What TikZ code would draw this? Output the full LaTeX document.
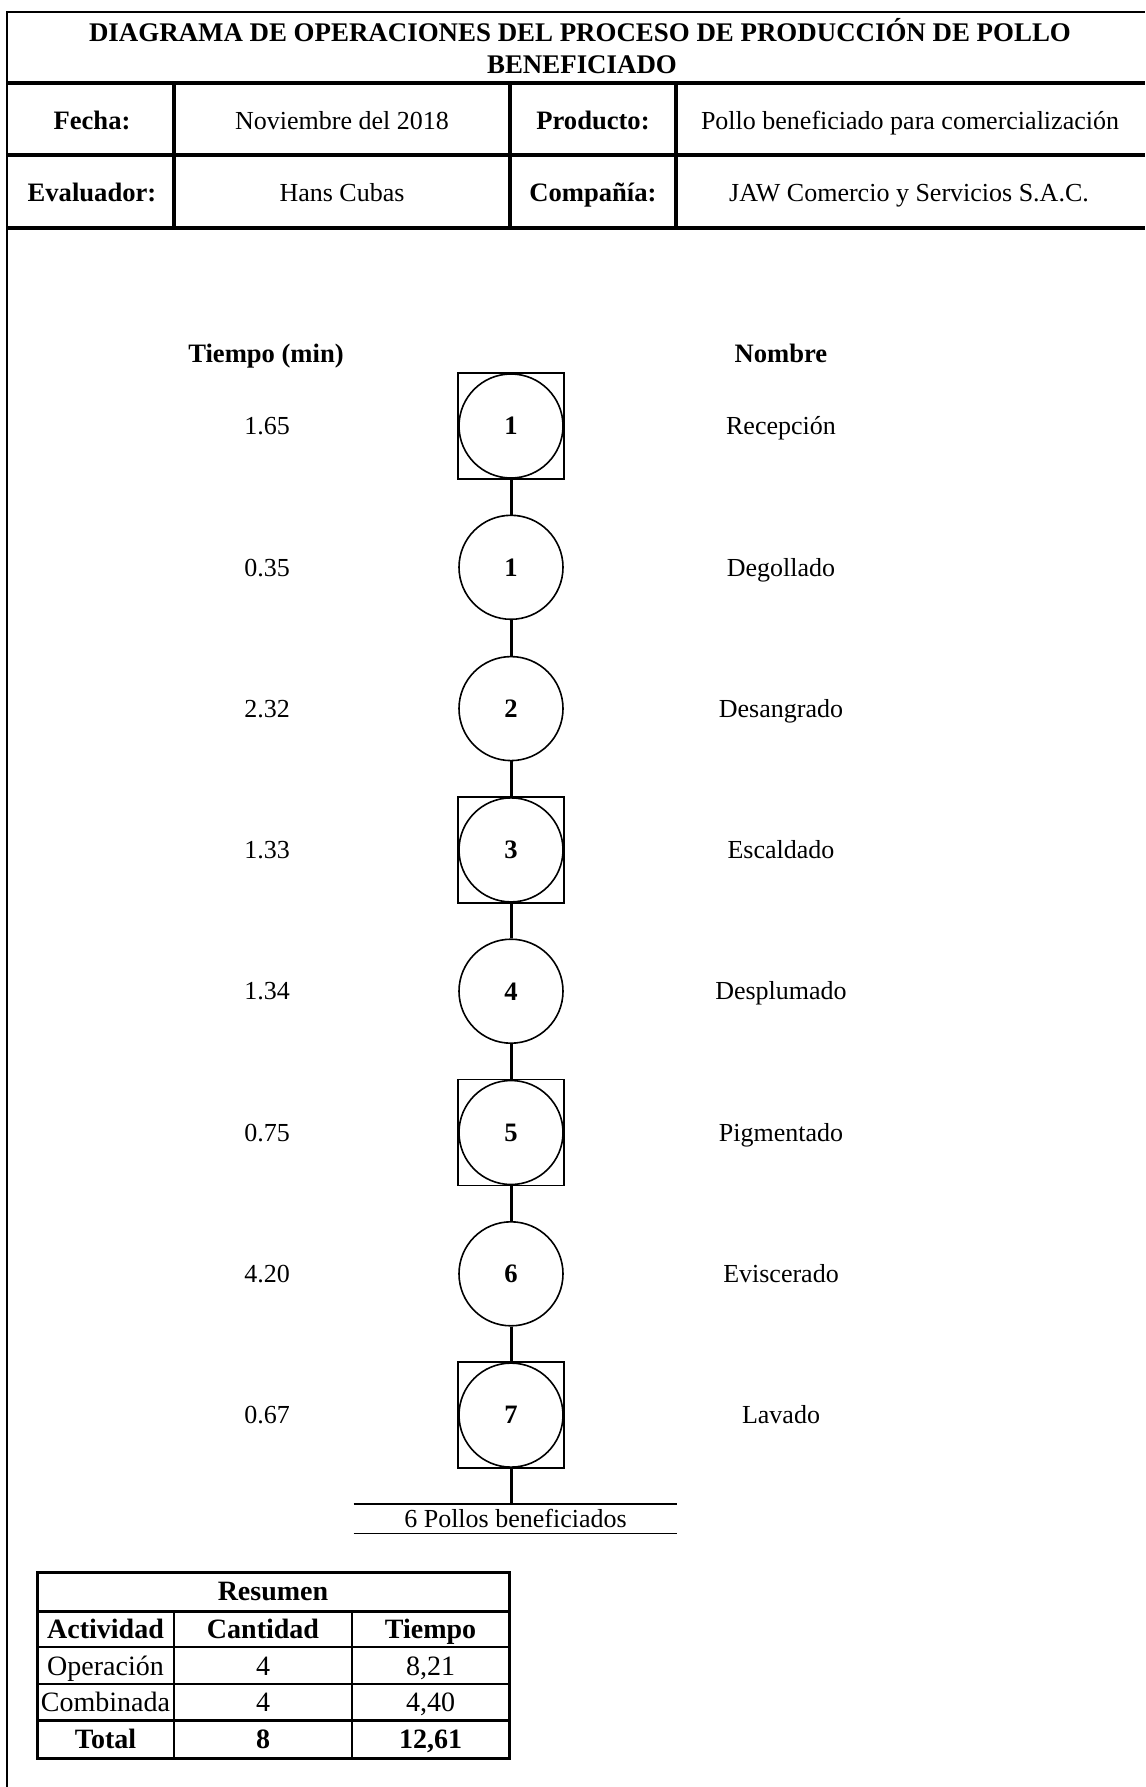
\documentclass[tikz,border=0pt]{standalone}
\usepackage{fontspec}
\setmainfont{Liberation Serif}
\begin{document}
\begin{tikzpicture}[x=0.5pt,y=-0.5pt,
  txt/.style={font=\fontsize{13}{15}\selectfont, inner sep=0pt, text height=8.7pt, text depth=0pt},
  btxt/.style={font=\fontsize{13.3}{15}\selectfont\bfseries, inner sep=0pt, text height=8.8pt, text depth=0pt},
  ttltxt/.style={font=\fontsize{13.45}{15}\selectfont\bfseries, inner sep=0pt, text height=8.9pt, text depth=0pt},
  ttxt/.style={font=\fontsize{14}{16}\selectfont, inner sep=0pt, text height=9.3pt, text depth=0pt},
  tbtxt/.style={font=\fontsize{14}{16}\selectfont\bfseries, inner sep=0pt, text height=9.3pt, text depth=0pt},
  frame/.style={line width=1pt},
  rule/.style={line width=1.7pt},
  opcirc/.style={circle, draw, line width=0.8pt, minimum size=52pt, inner sep=0pt,
                 text height=8.8pt, text depth=0pt,
                 font=\fontsize{13.3}{15}\selectfont\bfseries},
  sqbox/.style={rectangle, draw, line width=0.75pt, minimum size=53pt, inner sep=0pt},
  conn/.style={line width=1.5pt},
  baseline rule/.style={line width=0.9pt}]

\useasboundingbox (0,0) rectangle (1145,1787);

% outer frame and header grid
\draw[frame] (7,1787) -- (7,12) -- (1145,12);
\draw[rule] (7,83) -- (1145,83) (7,155) -- (1145,155) (7,228) -- (1145,228);
\draw[rule] (174,83) -- (174,228) (510,83) -- (510,228) (676,83) -- (676,228);

\node[ttltxt] (title1) at (580,33) {DIAGRAMA DE OPERACIONES DEL PROCESO DE PRODUCCIÓN DE POLLO};
\node[ttltxt] (title2) at (582,65) {BENEFICIADO};

\node[btxt] (fecha)   at (92,121)  {Fecha:};
\node[txt]  (fechav)  at (342,121) {Noviembre del 2018};
\node[btxt] (prod)    at (593,121) {Producto:};
\node[txt]  (prodv)   at (910,121) {Pollo beneficiado para comercialización};
\node[btxt] (eval)    at (92,193)  {Evaluador:};
\node[txt]  (evalv)   at (342,193) {Hans Cubas};
\node[btxt] (comp)    at (593,193) {Compañía:};
\node[txt]  (compv)   at (909,193) {JAW Comercio y Servicios S.A.C.};

% column headings
\node[btxt] (htime) at (266,354) {Tiempo (min)};
\node[btxt] (hname) at (781,354) {Nombre};

% process steps: index / number / combined (square) / time / name
\foreach \i/\num/\sq/\t/\nm in {0/1/1/1.65/Recepción, 1/1/0/0.35/Degollado,
    2/2/0/2.32/Desangrado, 3/3/1/1.33/Escaldado, 4/4/0/1.34/Desplumado,
    5/5/1/0.75/Pigmentado, 6/6/0/4.20/Eviscerado, 7/7/1/0.67/Lavado}{
  \pgfmathsetmacro{\yy}{426+141.3*\i}
  \ifnum\sq=1
    \node[sqbox] (o\i) at (511,\yy) {};
    \node[opcirc] (c\i) at (511,\yy) {\num};
  \else
    \node[opcirc, alias=o\i] (c\i) at (511,\yy) {\num};
  \fi
  \node[txt] (t\i) at (267,\yy) {\t};
  \node[txt] (n\i) at (781,\yy) {\nm};
}

\foreach \i [evaluate=\i as \j using int(\i+1)] in {0,...,6}
  \draw[conn] (o\i.south) -- (o\j.north);

% final product
\node[txt, minimum width=161.5pt, minimum height=14.5pt] (pollos) at (515.5,1518.5) {6 Pollos beneficiados};
\draw[baseline rule] (pollos.north west) -- (pollos.north east);
\draw[baseline rule] (pollos.south west) -- (pollos.south east);
\draw[conn] (o7.south) -- (o7.south |- pollos.north);

% summary table
\draw[line width=1.5pt] (37,1572) rectangle (509,1758);
\draw[line width=1.5pt] (37,1611) -- (509,1611);
\draw[line width=1pt] (37,1647) -- (509,1647);
\draw[line width=0.75pt] (37,1684) -- (509,1684);
\draw[line width=1.5pt] (37,1720) -- (509,1720);
\draw[line width=0.75pt] (174,1611) -- (174,1758) (352,1611) -- (352,1758);

\node[tbtxt] (res)  at (273,1591)   {Resumen};
\node[tbtxt] (ha)   at (105.5,1629) {Actividad};
\node[tbtxt] (hc)   at (263,1629)   {Cantidad};
\node[tbtxt] (ht)   at (430.5,1629) {Tiempo};
\node[ttxt]  (a1)   at (105.5,1666) {Operación};
\node[ttxt]  (c1)   at (263,1666)   {4};
\node[ttxt]  (tt1)  at (430.5,1666) {8,21};
\node[ttxt]  (a2)   at (105.5,1702) {Combinada};
\node[ttxt]  (c2)   at (263,1702)   {4};
\node[ttxt]  (tt2)  at (430.5,1702) {4,40};
\node[tbtxt] (a3)   at (105.5,1739) {Total};
\node[tbtxt] (c3)   at (263,1739)   {8};
\node[tbtxt] (tt3)  at (430.5,1739) {12,61};
\end{tikzpicture}
\end{document}
